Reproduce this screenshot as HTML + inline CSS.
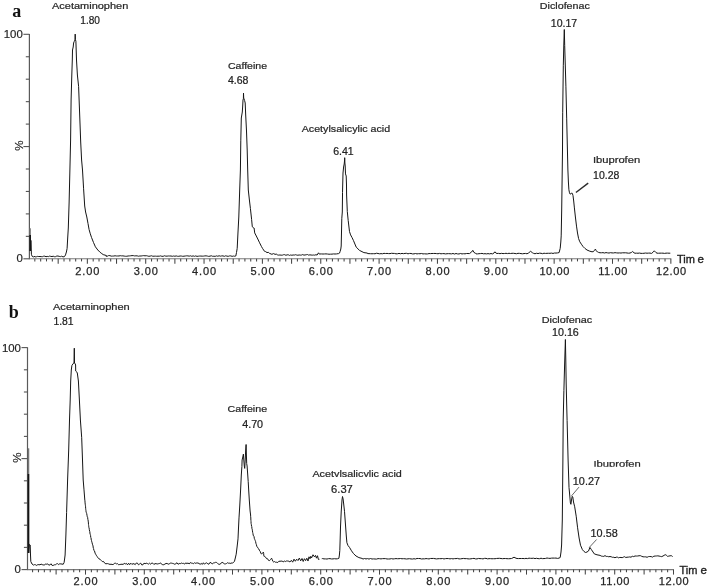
<!DOCTYPE html>
<html><head><meta charset="utf-8"><title>Chromatograms</title><style>
html,body{margin:0;padding:0;background:#fff;overflow:hidden;width:708px;height:587px;}
svg{display:block;filter:grayscale(1) blur(0.35px);}
text{font-family:"Liberation Sans",sans-serif;}
.xl{font-size:11px;fill:#262626;letter-spacing:0.9px;stroke:#262626;stroke-width:0.25px;}
.yl{font-size:11.4px;fill:#262626;stroke:#262626;stroke-width:0.2px;}
.pct{font-size:11.5px;fill:#2a2a2a;stroke:#2a2a2a;stroke-width:0.2px;}
.tm{font-size:11px;fill:#1e1e1e;stroke:#1e1e1e;stroke-width:0.35px;}
.pl{font-family:"Liberation Serif",serif;font-weight:bold;font-size:18px;fill:#111;}
.an{font-size:9.8px;fill:#262626;stroke:#262626;stroke-width:0.22px;}
.nm{fill:#222;stroke:#222;stroke-width:0.22px;}
</style></head>
<body>
<svg width="708" height="587" viewBox="0 0 708 587">
<rect width="708" height="587" fill="#fff"/>
<line x1="29.4" y1="34.00" x2="29.4" y2="259.30" stroke="#5a5a5a" stroke-width="1.2"/>
<line x1="29.4" y1="258.80" x2="671.25" y2="258.80" stroke="#7a7a7a" stroke-width="1.1"/>
<line x1="23.40" y1="258.80" x2="29.4" y2="258.80" stroke="#555" stroke-width="1.1"/>
<line x1="25.80" y1="236.35" x2="29.4" y2="236.35" stroke="#555" stroke-width="1.1"/>
<line x1="25.80" y1="213.90" x2="29.4" y2="213.90" stroke="#555" stroke-width="1.1"/>
<line x1="25.80" y1="191.45" x2="29.4" y2="191.45" stroke="#555" stroke-width="1.1"/>
<line x1="25.80" y1="169.00" x2="29.4" y2="169.00" stroke="#555" stroke-width="1.1"/>
<line x1="23.40" y1="146.55" x2="29.4" y2="146.55" stroke="#555" stroke-width="1.1"/>
<line x1="25.80" y1="124.10" x2="29.4" y2="124.10" stroke="#555" stroke-width="1.1"/>
<line x1="25.80" y1="101.65" x2="29.4" y2="101.65" stroke="#555" stroke-width="1.1"/>
<line x1="25.80" y1="79.20" x2="29.4" y2="79.20" stroke="#555" stroke-width="1.1"/>
<line x1="25.80" y1="56.75" x2="29.4" y2="56.75" stroke="#555" stroke-width="1.1"/>
<line x1="23.40" y1="34.30" x2="29.4" y2="34.30" stroke="#555" stroke-width="1.1"/>
<line x1="34.83" y1="258.80" x2="34.83" y2="261.40" stroke="#444" stroke-width="1.05"/>
<line x1="40.67" y1="258.80" x2="40.67" y2="261.40" stroke="#444" stroke-width="1.05"/>
<line x1="46.50" y1="258.80" x2="46.50" y2="261.40" stroke="#444" stroke-width="1.05"/>
<line x1="52.34" y1="258.80" x2="52.34" y2="261.40" stroke="#444" stroke-width="1.05"/>
<line x1="58.18" y1="258.80" x2="58.18" y2="263.80" stroke="#444" stroke-width="1.05"/>
<line x1="64.01" y1="258.80" x2="64.01" y2="261.40" stroke="#444" stroke-width="1.05"/>
<line x1="69.85" y1="258.80" x2="69.85" y2="261.40" stroke="#444" stroke-width="1.05"/>
<line x1="75.68" y1="258.80" x2="75.68" y2="261.40" stroke="#444" stroke-width="1.05"/>
<line x1="81.52" y1="258.80" x2="81.52" y2="261.40" stroke="#444" stroke-width="1.05"/>
<line x1="87.35" y1="258.80" x2="87.35" y2="263.80" stroke="#444" stroke-width="1.05"/>
<line x1="93.19" y1="258.80" x2="93.19" y2="261.40" stroke="#444" stroke-width="1.05"/>
<line x1="99.02" y1="258.80" x2="99.02" y2="261.40" stroke="#444" stroke-width="1.05"/>
<line x1="104.86" y1="258.80" x2="104.86" y2="261.40" stroke="#444" stroke-width="1.05"/>
<line x1="110.69" y1="258.80" x2="110.69" y2="261.40" stroke="#444" stroke-width="1.05"/>
<line x1="116.53" y1="258.80" x2="116.53" y2="263.80" stroke="#444" stroke-width="1.05"/>
<line x1="122.36" y1="258.80" x2="122.36" y2="261.40" stroke="#444" stroke-width="1.05"/>
<line x1="128.20" y1="258.80" x2="128.20" y2="261.40" stroke="#444" stroke-width="1.05"/>
<line x1="134.03" y1="258.80" x2="134.03" y2="261.40" stroke="#444" stroke-width="1.05"/>
<line x1="139.87" y1="258.80" x2="139.87" y2="261.40" stroke="#444" stroke-width="1.05"/>
<line x1="145.70" y1="258.80" x2="145.70" y2="263.80" stroke="#444" stroke-width="1.05"/>
<line x1="151.54" y1="258.80" x2="151.54" y2="261.40" stroke="#444" stroke-width="1.05"/>
<line x1="157.37" y1="258.80" x2="157.37" y2="261.40" stroke="#444" stroke-width="1.05"/>
<line x1="163.21" y1="258.80" x2="163.21" y2="261.40" stroke="#444" stroke-width="1.05"/>
<line x1="169.04" y1="258.80" x2="169.04" y2="261.40" stroke="#444" stroke-width="1.05"/>
<line x1="174.88" y1="258.80" x2="174.88" y2="263.80" stroke="#444" stroke-width="1.05"/>
<line x1="180.71" y1="258.80" x2="180.71" y2="261.40" stroke="#444" stroke-width="1.05"/>
<line x1="186.55" y1="258.80" x2="186.55" y2="261.40" stroke="#444" stroke-width="1.05"/>
<line x1="192.38" y1="258.80" x2="192.38" y2="261.40" stroke="#444" stroke-width="1.05"/>
<line x1="198.22" y1="258.80" x2="198.22" y2="261.40" stroke="#444" stroke-width="1.05"/>
<line x1="204.05" y1="258.80" x2="204.05" y2="263.80" stroke="#444" stroke-width="1.05"/>
<line x1="209.88" y1="258.80" x2="209.88" y2="261.40" stroke="#444" stroke-width="1.05"/>
<line x1="215.72" y1="258.80" x2="215.72" y2="261.40" stroke="#444" stroke-width="1.05"/>
<line x1="221.56" y1="258.80" x2="221.56" y2="261.40" stroke="#444" stroke-width="1.05"/>
<line x1="227.39" y1="258.80" x2="227.39" y2="261.40" stroke="#444" stroke-width="1.05"/>
<line x1="233.23" y1="258.80" x2="233.23" y2="263.80" stroke="#444" stroke-width="1.05"/>
<line x1="239.06" y1="258.80" x2="239.06" y2="261.40" stroke="#444" stroke-width="1.05"/>
<line x1="244.90" y1="258.80" x2="244.90" y2="261.40" stroke="#444" stroke-width="1.05"/>
<line x1="250.73" y1="258.80" x2="250.73" y2="261.40" stroke="#444" stroke-width="1.05"/>
<line x1="256.57" y1="258.80" x2="256.57" y2="261.40" stroke="#444" stroke-width="1.05"/>
<line x1="262.40" y1="258.80" x2="262.40" y2="263.80" stroke="#444" stroke-width="1.05"/>
<line x1="268.24" y1="258.80" x2="268.24" y2="261.40" stroke="#444" stroke-width="1.05"/>
<line x1="274.07" y1="258.80" x2="274.07" y2="261.40" stroke="#444" stroke-width="1.05"/>
<line x1="279.91" y1="258.80" x2="279.91" y2="261.40" stroke="#444" stroke-width="1.05"/>
<line x1="285.74" y1="258.80" x2="285.74" y2="261.40" stroke="#444" stroke-width="1.05"/>
<line x1="291.58" y1="258.80" x2="291.58" y2="263.80" stroke="#444" stroke-width="1.05"/>
<line x1="297.41" y1="258.80" x2="297.41" y2="261.40" stroke="#444" stroke-width="1.05"/>
<line x1="303.25" y1="258.80" x2="303.25" y2="261.40" stroke="#444" stroke-width="1.05"/>
<line x1="309.08" y1="258.80" x2="309.08" y2="261.40" stroke="#444" stroke-width="1.05"/>
<line x1="314.92" y1="258.80" x2="314.92" y2="261.40" stroke="#444" stroke-width="1.05"/>
<line x1="320.75" y1="258.80" x2="320.75" y2="263.80" stroke="#444" stroke-width="1.05"/>
<line x1="326.59" y1="258.80" x2="326.59" y2="261.40" stroke="#444" stroke-width="1.05"/>
<line x1="332.42" y1="258.80" x2="332.42" y2="261.40" stroke="#444" stroke-width="1.05"/>
<line x1="338.26" y1="258.80" x2="338.26" y2="261.40" stroke="#444" stroke-width="1.05"/>
<line x1="344.09" y1="258.80" x2="344.09" y2="261.40" stroke="#444" stroke-width="1.05"/>
<line x1="349.93" y1="258.80" x2="349.93" y2="263.80" stroke="#444" stroke-width="1.05"/>
<line x1="355.76" y1="258.80" x2="355.76" y2="261.40" stroke="#444" stroke-width="1.05"/>
<line x1="361.60" y1="258.80" x2="361.60" y2="261.40" stroke="#444" stroke-width="1.05"/>
<line x1="367.43" y1="258.80" x2="367.43" y2="261.40" stroke="#444" stroke-width="1.05"/>
<line x1="373.27" y1="258.80" x2="373.27" y2="261.40" stroke="#444" stroke-width="1.05"/>
<line x1="379.10" y1="258.80" x2="379.10" y2="263.80" stroke="#444" stroke-width="1.05"/>
<line x1="384.94" y1="258.80" x2="384.94" y2="261.40" stroke="#444" stroke-width="1.05"/>
<line x1="390.77" y1="258.80" x2="390.77" y2="261.40" stroke="#444" stroke-width="1.05"/>
<line x1="396.61" y1="258.80" x2="396.61" y2="261.40" stroke="#444" stroke-width="1.05"/>
<line x1="402.44" y1="258.80" x2="402.44" y2="261.40" stroke="#444" stroke-width="1.05"/>
<line x1="408.28" y1="258.80" x2="408.28" y2="263.80" stroke="#444" stroke-width="1.05"/>
<line x1="414.11" y1="258.80" x2="414.11" y2="261.40" stroke="#444" stroke-width="1.05"/>
<line x1="419.95" y1="258.80" x2="419.95" y2="261.40" stroke="#444" stroke-width="1.05"/>
<line x1="425.78" y1="258.80" x2="425.78" y2="261.40" stroke="#444" stroke-width="1.05"/>
<line x1="431.62" y1="258.80" x2="431.62" y2="261.40" stroke="#444" stroke-width="1.05"/>
<line x1="437.45" y1="258.80" x2="437.45" y2="263.80" stroke="#444" stroke-width="1.05"/>
<line x1="443.29" y1="258.80" x2="443.29" y2="261.40" stroke="#444" stroke-width="1.05"/>
<line x1="449.12" y1="258.80" x2="449.12" y2="261.40" stroke="#444" stroke-width="1.05"/>
<line x1="454.96" y1="258.80" x2="454.96" y2="261.40" stroke="#444" stroke-width="1.05"/>
<line x1="460.79" y1="258.80" x2="460.79" y2="261.40" stroke="#444" stroke-width="1.05"/>
<line x1="466.62" y1="258.80" x2="466.62" y2="263.80" stroke="#444" stroke-width="1.05"/>
<line x1="472.46" y1="258.80" x2="472.46" y2="261.40" stroke="#444" stroke-width="1.05"/>
<line x1="478.29" y1="258.80" x2="478.29" y2="261.40" stroke="#444" stroke-width="1.05"/>
<line x1="484.13" y1="258.80" x2="484.13" y2="261.40" stroke="#444" stroke-width="1.05"/>
<line x1="489.97" y1="258.80" x2="489.97" y2="261.40" stroke="#444" stroke-width="1.05"/>
<line x1="495.80" y1="258.80" x2="495.80" y2="263.80" stroke="#444" stroke-width="1.05"/>
<line x1="501.63" y1="258.80" x2="501.63" y2="261.40" stroke="#444" stroke-width="1.05"/>
<line x1="507.47" y1="258.80" x2="507.47" y2="261.40" stroke="#444" stroke-width="1.05"/>
<line x1="513.31" y1="258.80" x2="513.31" y2="261.40" stroke="#444" stroke-width="1.05"/>
<line x1="519.14" y1="258.80" x2="519.14" y2="261.40" stroke="#444" stroke-width="1.05"/>
<line x1="524.98" y1="258.80" x2="524.98" y2="263.80" stroke="#444" stroke-width="1.05"/>
<line x1="530.81" y1="258.80" x2="530.81" y2="261.40" stroke="#444" stroke-width="1.05"/>
<line x1="536.65" y1="258.80" x2="536.65" y2="261.40" stroke="#444" stroke-width="1.05"/>
<line x1="542.48" y1="258.80" x2="542.48" y2="261.40" stroke="#444" stroke-width="1.05"/>
<line x1="548.32" y1="258.80" x2="548.32" y2="261.40" stroke="#444" stroke-width="1.05"/>
<line x1="554.15" y1="258.80" x2="554.15" y2="263.80" stroke="#444" stroke-width="1.05"/>
<line x1="559.99" y1="258.80" x2="559.99" y2="261.40" stroke="#444" stroke-width="1.05"/>
<line x1="565.82" y1="258.80" x2="565.82" y2="261.40" stroke="#444" stroke-width="1.05"/>
<line x1="571.66" y1="258.80" x2="571.66" y2="261.40" stroke="#444" stroke-width="1.05"/>
<line x1="577.49" y1="258.80" x2="577.49" y2="261.40" stroke="#444" stroke-width="1.05"/>
<line x1="583.33" y1="258.80" x2="583.33" y2="263.80" stroke="#444" stroke-width="1.05"/>
<line x1="589.16" y1="258.80" x2="589.16" y2="261.40" stroke="#444" stroke-width="1.05"/>
<line x1="595.00" y1="258.80" x2="595.00" y2="261.40" stroke="#444" stroke-width="1.05"/>
<line x1="600.83" y1="258.80" x2="600.83" y2="261.40" stroke="#444" stroke-width="1.05"/>
<line x1="606.67" y1="258.80" x2="606.67" y2="261.40" stroke="#444" stroke-width="1.05"/>
<line x1="612.50" y1="258.80" x2="612.50" y2="263.80" stroke="#444" stroke-width="1.05"/>
<line x1="618.34" y1="258.80" x2="618.34" y2="261.40" stroke="#444" stroke-width="1.05"/>
<line x1="624.17" y1="258.80" x2="624.17" y2="261.40" stroke="#444" stroke-width="1.05"/>
<line x1="630.01" y1="258.80" x2="630.01" y2="261.40" stroke="#444" stroke-width="1.05"/>
<line x1="635.84" y1="258.80" x2="635.84" y2="261.40" stroke="#444" stroke-width="1.05"/>
<line x1="641.67" y1="258.80" x2="641.67" y2="263.80" stroke="#444" stroke-width="1.05"/>
<line x1="647.51" y1="258.80" x2="647.51" y2="261.40" stroke="#444" stroke-width="1.05"/>
<line x1="653.35" y1="258.80" x2="653.35" y2="261.40" stroke="#444" stroke-width="1.05"/>
<line x1="659.18" y1="258.80" x2="659.18" y2="261.40" stroke="#444" stroke-width="1.05"/>
<line x1="665.02" y1="258.80" x2="665.02" y2="261.40" stroke="#444" stroke-width="1.05"/>
<line x1="670.85" y1="258.80" x2="670.85" y2="263.80" stroke="#444" stroke-width="1.05"/>
<text x="87.85" y="274.6" class="xl" text-anchor="middle">2.00</text>
<text x="146.20" y="274.6" class="xl" text-anchor="middle">3.00</text>
<text x="204.55" y="274.6" class="xl" text-anchor="middle">4.00</text>
<text x="262.90" y="274.6" class="xl" text-anchor="middle">5.00</text>
<text x="321.25" y="274.6" class="xl" text-anchor="middle">6.00</text>
<text x="379.60" y="274.6" class="xl" text-anchor="middle">7.00</text>
<text x="437.95" y="274.6" class="xl" text-anchor="middle">8.00</text>
<text x="496.30" y="274.6" class="xl" text-anchor="middle">9.00</text>
<text x="554.65" y="274.6" class="xl" text-anchor="middle" style="letter-spacing:0.6px">10.00</text>
<text x="613.00" y="274.6" class="xl" text-anchor="middle" style="letter-spacing:0.6px">11.00</text>
<text x="671.35" y="274.6" class="xl" text-anchor="middle" style="letter-spacing:0.6px">12.00</text>
<polyline points="30.30,251.00 30.90,240.40 31.20,246.00 31.40,254.30 32.20,256.40 33.30,257.00 34.00,256.34 35.20,256.83 36.40,256.76 37.60,256.39 38.80,256.55 40.00,256.50 41.20,256.63 42.40,256.71 43.60,256.21 44.80,256.16 46.00,256.71 47.20,256.41 48.40,256.63 49.60,256.09 50.80,256.38 52.00,256.57 53.20,256.21 54.40,256.70 55.60,256.65 56.80,256.03 58.00,256.02 59.20,256.36 60.40,256.63 61.60,256.23 63.00,256.90 64.50,256.60 65.50,254.90 66.40,252.00 67.10,248.50 67.70,238.00 68.30,228.00 69.10,203.00 69.90,170.00 70.60,140.00 71.10,100.00 71.80,75.00 72.30,60.00 72.50,50.00 73.20,47.00 73.60,43.00 74.30,41.30 75.00,40.00 75.20,34.10 75.40,39.50 75.90,41.20 76.50,60.00 77.40,75.00 78.60,86.40 79.80,118.00 80.70,142.00 81.60,160.00 82.50,170.00 83.60,188.80 84.70,206.00 85.60,212.00 86.80,217.00 88.00,223.50 89.10,229.60 90.30,233.80 91.50,237.40 93.50,242.50 95.40,246.80 97.80,250.00 100.10,252.30 101.80,253.60 103.20,254.60 106.30,255.50 106.00,256.22 107.30,256.22 108.60,255.59 109.90,255.62 111.20,256.14 112.50,256.08 113.80,256.03 115.10,255.78 116.40,255.99 117.70,255.99 119.00,255.98 120.30,255.68 121.60,255.88 122.90,255.85 124.20,256.08 125.50,256.28 126.80,256.25 128.10,255.97 129.40,255.90 130.70,255.78 132.00,255.62 133.30,255.61 134.60,255.92 135.90,255.82 137.20,255.86 138.50,256.22 139.80,255.97 141.10,256.00 142.40,255.77 143.70,255.63 145.00,255.84 146.30,255.71 147.60,255.97 148.90,256.32 150.20,256.09 151.50,255.75 152.80,256.25 154.10,256.18 155.40,256.14 156.70,256.26 158.00,256.16 159.30,256.19 160.60,255.88 161.90,256.32 163.20,256.31 164.50,255.75 165.80,256.17 167.10,256.15 168.40,255.97 169.70,256.02 171.00,255.99 172.30,256.30 173.60,256.01 174.90,256.24 176.20,255.91 177.50,256.28 178.80,256.29 180.10,255.99 181.40,256.06 182.70,256.31 184.00,256.18 185.30,256.01 186.60,255.83 187.90,255.90 189.20,256.17 190.50,255.80 191.80,256.32 193.10,255.87 194.40,256.33 195.70,255.91 197.00,256.36 198.30,256.19 199.60,256.05 200.90,256.06 202.20,256.16 203.50,256.11 204.80,255.92 206.10,255.85 207.40,256.07 208.70,256.36 210.00,256.15 211.30,255.77 212.60,256.29 213.90,256.23 215.20,256.35 216.50,255.86 217.80,256.24 219.10,255.77 220.40,256.18 221.70,255.92 223.00,255.89 224.30,256.35 225.60,255.81 226.90,256.10 228.20,256.34 229.50,255.91 230.80,255.89 232.10,256.36 233.40,256.04 234.70,256.25 235.80,256.00 236.50,252.50 237.20,248.40 238.00,232.00 238.80,217.00 239.70,190.00 240.40,170.00 240.80,140.20 241.30,118.00 242.30,112.00 242.70,106.00 243.00,100.00 243.40,98.50 243.50,93.10 243.70,98.00 244.60,100.50 245.20,103.00 245.70,115.00 246.50,131.00 247.20,150.00 247.70,170.00 248.30,190.00 249.40,200.00 250.40,208.40 251.60,219.40 252.30,226.80 253.20,227.60 254.10,228.00 254.70,232.90 256.30,236.00 257.80,239.00 259.60,242.80 261.40,246.40 262.60,248.50 264.50,251.30 265.60,251.60 267.00,252.60 268.30,252.30 269.40,253.30 271.90,254.30 273.50,253.60 275.00,254.30 276.80,254.20 277.50,254.89 278.70,255.13 279.90,254.98 281.10,255.16 282.30,255.16 283.50,254.71 284.70,254.66 285.90,255.31 287.10,254.84 288.30,254.81 289.50,255.41 290.70,254.98 291.90,255.26 293.10,254.96 294.30,255.09 295.50,254.69 296.70,255.06 297.90,255.24 299.10,254.96 300.30,255.12 301.50,255.06 302.70,254.56 303.90,255.11 305.10,254.97 306.30,254.73 307.50,254.50 308.70,255.16 309.90,254.84 311.10,255.02 312.30,255.14 313.50,255.00 314.70,255.16 315.90,254.73 317.10,255.04 318.50,252.80 319.30,254.10 320.00,253.99 321.50,253.93 323.00,254.04 324.50,253.94 326.00,253.89 327.50,254.02 329.00,254.22 330.50,254.16 332.00,254.14 333.50,253.91 335.00,254.03 336.50,253.92 338.60,253.60 339.50,253.10 340.10,251.50 340.80,249.00 341.20,246.00 341.50,232.00 341.80,218.30 342.30,212.00 342.50,195.00 342.50,192.60 343.00,173.00 343.60,167.00 344.20,164.00 344.60,160.00 344.70,157.70 344.90,163.00 345.20,166.00 345.50,173.90 346.20,176.00 346.50,185.00 346.60,195.00 347.30,211.60 348.20,220.50 349.50,231.60 350.60,234.90 352.00,237.50 353.40,240.40 356.20,247.10 359.50,250.40 363.90,252.60 367.50,253.10 367.50,253.57 369.00,253.65 370.50,253.69 372.00,253.78 373.50,253.66 375.00,253.78 376.50,253.24 378.00,253.51 379.50,253.80 381.00,253.63 382.50,253.78 384.00,253.32 385.50,253.53 387.00,253.41 388.50,253.59 390.00,253.61 391.50,253.28 393.00,253.40 394.50,253.45 396.00,253.83 397.50,253.75 399.00,253.39 400.50,253.77 402.00,253.38 403.50,253.68 405.00,253.39 406.50,253.32 408.00,253.84 409.50,253.45 411.00,253.46 412.50,253.92 414.00,253.86 415.50,253.51 417.00,253.92 418.50,253.67 420.00,253.76 421.50,253.48 423.00,253.93 424.50,253.78 426.00,253.95 427.50,253.91 429.00,253.56 430.50,253.60 432.00,253.49 433.50,253.48 435.00,253.44 436.50,253.58 438.00,253.77 439.50,253.41 441.00,253.82 442.50,253.62 444.00,253.61 445.50,253.92 447.00,253.72 448.50,253.63 450.00,253.73 451.50,253.87 453.00,253.48 454.50,254.04 456.00,253.47 457.50,253.91 459.00,253.97 460.50,253.48 462.00,253.95 463.50,253.70 465.00,253.83 466.50,253.50 468.00,253.52 469.50,253.61 470.00,253.10 471.60,252.00 472.80,250.30 474.00,252.50 475.50,253.20 476.00,253.88 477.50,253.89 479.00,253.69 480.50,253.56 482.00,253.40 483.50,253.80 485.00,253.68 486.50,253.86 488.00,253.62 489.50,253.86 491.00,253.56 492.50,253.88 494.00,253.00 494.90,251.80 495.80,253.00 497.00,253.49 498.50,253.39 500.00,253.68 501.50,253.33 503.00,253.60 504.50,253.50 506.00,253.31 507.50,253.57 509.00,253.28 510.50,253.52 512.00,253.29 513.50,253.30 515.00,253.50 516.50,253.73 518.00,253.31 519.50,253.36 521.00,253.60 522.50,253.79 524.00,253.56 525.50,253.45 527.00,253.79 528.50,253.00 530.60,251.30 532.50,252.80 533.50,253.34 535.00,253.76 536.50,253.24 538.00,253.57 539.50,253.18 541.00,253.26 542.50,253.69 544.00,253.20 545.50,253.44 547.00,253.31 548.50,253.29 550.00,253.30 551.50,253.10 553.00,253.46 554.50,253.00 556.00,253.07 557.50,252.92 559.10,252.60 560.20,248.40 560.80,242.00 561.20,235.90 561.70,210.00 562.10,180.00 562.50,150.00 562.70,112.80 563.30,65.80 563.80,45.00 564.30,29.50 564.70,45.40 565.30,66.00 565.90,86.20 566.70,118.90 567.30,145.00 567.90,170.00 568.40,182.00 568.90,189.80 569.50,192.80 570.20,194.20 571.20,193.30 572.30,193.30 573.00,195.60 573.70,201.00 574.40,207.90 575.40,217.00 576.50,226.10 577.50,233.00 578.60,238.60 579.80,241.80 581.40,244.20 583.00,246.50 584.90,248.40 587.00,250.00 589.80,251.20 592.00,251.80 593.50,251.60 594.50,250.20 595.40,249.10 596.30,250.80 597.50,252.00 598.50,252.40 600.00,252.78 601.50,252.75 603.00,252.64 604.50,253.01 606.00,252.59 607.50,252.85 609.00,253.06 610.50,252.66 612.00,252.91 613.50,252.95 615.00,252.67 616.50,252.85 618.00,253.02 619.50,252.90 621.00,253.05 622.50,252.78 624.00,252.83 625.50,252.77 627.00,252.98 628.50,253.20 630.00,253.04 631.50,252.40 632.60,251.50 634.00,252.80 635.00,253.24 636.50,253.16 638.00,253.24 639.50,253.05 641.00,253.36 642.50,253.36 644.00,253.28 645.50,253.03 647.00,253.21 648.50,253.11 650.00,253.07 651.50,253.43 653.30,252.00 654.30,250.80 656.00,252.60 657.00,253.17 658.50,253.24 660.00,253.15 661.50,253.17 663.00,253.15 664.50,253.41 666.00,253.15 667.50,253.12 669.00,253.19 670.30,253.20" fill="none" stroke="#151515" stroke-width="1" stroke-linejoin="round"/>
<line x1="27.5" y1="347.30" x2="27.5" y2="570.10" stroke="#5a5a5a" stroke-width="1.2"/>
<line x1="27.5" y1="569.60" x2="673.90" y2="569.60" stroke="#7a7a7a" stroke-width="1.1"/>
<line x1="21.50" y1="569.60" x2="27.5" y2="569.60" stroke="#555" stroke-width="1.1"/>
<line x1="23.90" y1="547.40" x2="27.5" y2="547.40" stroke="#555" stroke-width="1.1"/>
<line x1="23.90" y1="525.20" x2="27.5" y2="525.20" stroke="#555" stroke-width="1.1"/>
<line x1="23.90" y1="503.00" x2="27.5" y2="503.00" stroke="#555" stroke-width="1.1"/>
<line x1="23.90" y1="480.80" x2="27.5" y2="480.80" stroke="#555" stroke-width="1.1"/>
<line x1="21.50" y1="458.60" x2="27.5" y2="458.60" stroke="#555" stroke-width="1.1"/>
<line x1="23.90" y1="436.40" x2="27.5" y2="436.40" stroke="#555" stroke-width="1.1"/>
<line x1="23.90" y1="414.20" x2="27.5" y2="414.20" stroke="#555" stroke-width="1.1"/>
<line x1="23.90" y1="392.00" x2="27.5" y2="392.00" stroke="#555" stroke-width="1.1"/>
<line x1="23.90" y1="369.80" x2="27.5" y2="369.80" stroke="#555" stroke-width="1.1"/>
<line x1="21.50" y1="347.60" x2="27.5" y2="347.60" stroke="#555" stroke-width="1.1"/>
<line x1="32.58" y1="569.60" x2="32.58" y2="572.20" stroke="#444" stroke-width="1.05"/>
<line x1="38.46" y1="569.60" x2="38.46" y2="572.20" stroke="#444" stroke-width="1.05"/>
<line x1="44.34" y1="569.60" x2="44.34" y2="572.20" stroke="#444" stroke-width="1.05"/>
<line x1="50.22" y1="569.60" x2="50.22" y2="572.20" stroke="#444" stroke-width="1.05"/>
<line x1="56.10" y1="569.60" x2="56.10" y2="574.60" stroke="#444" stroke-width="1.05"/>
<line x1="61.98" y1="569.60" x2="61.98" y2="572.20" stroke="#444" stroke-width="1.05"/>
<line x1="67.86" y1="569.60" x2="67.86" y2="572.20" stroke="#444" stroke-width="1.05"/>
<line x1="73.74" y1="569.60" x2="73.74" y2="572.20" stroke="#444" stroke-width="1.05"/>
<line x1="79.62" y1="569.60" x2="79.62" y2="572.20" stroke="#444" stroke-width="1.05"/>
<line x1="85.50" y1="569.60" x2="85.50" y2="574.60" stroke="#444" stroke-width="1.05"/>
<line x1="91.38" y1="569.60" x2="91.38" y2="572.20" stroke="#444" stroke-width="1.05"/>
<line x1="97.26" y1="569.60" x2="97.26" y2="572.20" stroke="#444" stroke-width="1.05"/>
<line x1="103.14" y1="569.60" x2="103.14" y2="572.20" stroke="#444" stroke-width="1.05"/>
<line x1="109.02" y1="569.60" x2="109.02" y2="572.20" stroke="#444" stroke-width="1.05"/>
<line x1="114.90" y1="569.60" x2="114.90" y2="574.60" stroke="#444" stroke-width="1.05"/>
<line x1="120.78" y1="569.60" x2="120.78" y2="572.20" stroke="#444" stroke-width="1.05"/>
<line x1="126.66" y1="569.60" x2="126.66" y2="572.20" stroke="#444" stroke-width="1.05"/>
<line x1="132.54" y1="569.60" x2="132.54" y2="572.20" stroke="#444" stroke-width="1.05"/>
<line x1="138.42" y1="569.60" x2="138.42" y2="572.20" stroke="#444" stroke-width="1.05"/>
<line x1="144.30" y1="569.60" x2="144.30" y2="574.60" stroke="#444" stroke-width="1.05"/>
<line x1="150.18" y1="569.60" x2="150.18" y2="572.20" stroke="#444" stroke-width="1.05"/>
<line x1="156.06" y1="569.60" x2="156.06" y2="572.20" stroke="#444" stroke-width="1.05"/>
<line x1="161.94" y1="569.60" x2="161.94" y2="572.20" stroke="#444" stroke-width="1.05"/>
<line x1="167.82" y1="569.60" x2="167.82" y2="572.20" stroke="#444" stroke-width="1.05"/>
<line x1="173.70" y1="569.60" x2="173.70" y2="574.60" stroke="#444" stroke-width="1.05"/>
<line x1="179.58" y1="569.60" x2="179.58" y2="572.20" stroke="#444" stroke-width="1.05"/>
<line x1="185.46" y1="569.60" x2="185.46" y2="572.20" stroke="#444" stroke-width="1.05"/>
<line x1="191.34" y1="569.60" x2="191.34" y2="572.20" stroke="#444" stroke-width="1.05"/>
<line x1="197.22" y1="569.60" x2="197.22" y2="572.20" stroke="#444" stroke-width="1.05"/>
<line x1="203.10" y1="569.60" x2="203.10" y2="574.60" stroke="#444" stroke-width="1.05"/>
<line x1="208.98" y1="569.60" x2="208.98" y2="572.20" stroke="#444" stroke-width="1.05"/>
<line x1="214.86" y1="569.60" x2="214.86" y2="572.20" stroke="#444" stroke-width="1.05"/>
<line x1="220.74" y1="569.60" x2="220.74" y2="572.20" stroke="#444" stroke-width="1.05"/>
<line x1="226.62" y1="569.60" x2="226.62" y2="572.20" stroke="#444" stroke-width="1.05"/>
<line x1="232.50" y1="569.60" x2="232.50" y2="574.60" stroke="#444" stroke-width="1.05"/>
<line x1="238.38" y1="569.60" x2="238.38" y2="572.20" stroke="#444" stroke-width="1.05"/>
<line x1="244.26" y1="569.60" x2="244.26" y2="572.20" stroke="#444" stroke-width="1.05"/>
<line x1="250.14" y1="569.60" x2="250.14" y2="572.20" stroke="#444" stroke-width="1.05"/>
<line x1="256.02" y1="569.60" x2="256.02" y2="572.20" stroke="#444" stroke-width="1.05"/>
<line x1="261.90" y1="569.60" x2="261.90" y2="574.60" stroke="#444" stroke-width="1.05"/>
<line x1="267.78" y1="569.60" x2="267.78" y2="572.20" stroke="#444" stroke-width="1.05"/>
<line x1="273.66" y1="569.60" x2="273.66" y2="572.20" stroke="#444" stroke-width="1.05"/>
<line x1="279.54" y1="569.60" x2="279.54" y2="572.20" stroke="#444" stroke-width="1.05"/>
<line x1="285.42" y1="569.60" x2="285.42" y2="572.20" stroke="#444" stroke-width="1.05"/>
<line x1="291.30" y1="569.60" x2="291.30" y2="574.60" stroke="#444" stroke-width="1.05"/>
<line x1="297.18" y1="569.60" x2="297.18" y2="572.20" stroke="#444" stroke-width="1.05"/>
<line x1="303.06" y1="569.60" x2="303.06" y2="572.20" stroke="#444" stroke-width="1.05"/>
<line x1="308.94" y1="569.60" x2="308.94" y2="572.20" stroke="#444" stroke-width="1.05"/>
<line x1="314.82" y1="569.60" x2="314.82" y2="572.20" stroke="#444" stroke-width="1.05"/>
<line x1="320.70" y1="569.60" x2="320.70" y2="574.60" stroke="#444" stroke-width="1.05"/>
<line x1="326.58" y1="569.60" x2="326.58" y2="572.20" stroke="#444" stroke-width="1.05"/>
<line x1="332.46" y1="569.60" x2="332.46" y2="572.20" stroke="#444" stroke-width="1.05"/>
<line x1="338.34" y1="569.60" x2="338.34" y2="572.20" stroke="#444" stroke-width="1.05"/>
<line x1="344.22" y1="569.60" x2="344.22" y2="572.20" stroke="#444" stroke-width="1.05"/>
<line x1="350.10" y1="569.60" x2="350.10" y2="574.60" stroke="#444" stroke-width="1.05"/>
<line x1="355.98" y1="569.60" x2="355.98" y2="572.20" stroke="#444" stroke-width="1.05"/>
<line x1="361.86" y1="569.60" x2="361.86" y2="572.20" stroke="#444" stroke-width="1.05"/>
<line x1="367.74" y1="569.60" x2="367.74" y2="572.20" stroke="#444" stroke-width="1.05"/>
<line x1="373.62" y1="569.60" x2="373.62" y2="572.20" stroke="#444" stroke-width="1.05"/>
<line x1="379.50" y1="569.60" x2="379.50" y2="574.60" stroke="#444" stroke-width="1.05"/>
<line x1="385.38" y1="569.60" x2="385.38" y2="572.20" stroke="#444" stroke-width="1.05"/>
<line x1="391.26" y1="569.60" x2="391.26" y2="572.20" stroke="#444" stroke-width="1.05"/>
<line x1="397.14" y1="569.60" x2="397.14" y2="572.20" stroke="#444" stroke-width="1.05"/>
<line x1="403.02" y1="569.60" x2="403.02" y2="572.20" stroke="#444" stroke-width="1.05"/>
<line x1="408.90" y1="569.60" x2="408.90" y2="574.60" stroke="#444" stroke-width="1.05"/>
<line x1="414.78" y1="569.60" x2="414.78" y2="572.20" stroke="#444" stroke-width="1.05"/>
<line x1="420.66" y1="569.60" x2="420.66" y2="572.20" stroke="#444" stroke-width="1.05"/>
<line x1="426.54" y1="569.60" x2="426.54" y2="572.20" stroke="#444" stroke-width="1.05"/>
<line x1="432.42" y1="569.60" x2="432.42" y2="572.20" stroke="#444" stroke-width="1.05"/>
<line x1="438.30" y1="569.60" x2="438.30" y2="574.60" stroke="#444" stroke-width="1.05"/>
<line x1="444.18" y1="569.60" x2="444.18" y2="572.20" stroke="#444" stroke-width="1.05"/>
<line x1="450.06" y1="569.60" x2="450.06" y2="572.20" stroke="#444" stroke-width="1.05"/>
<line x1="455.94" y1="569.60" x2="455.94" y2="572.20" stroke="#444" stroke-width="1.05"/>
<line x1="461.82" y1="569.60" x2="461.82" y2="572.20" stroke="#444" stroke-width="1.05"/>
<line x1="467.70" y1="569.60" x2="467.70" y2="574.60" stroke="#444" stroke-width="1.05"/>
<line x1="473.58" y1="569.60" x2="473.58" y2="572.20" stroke="#444" stroke-width="1.05"/>
<line x1="479.46" y1="569.60" x2="479.46" y2="572.20" stroke="#444" stroke-width="1.05"/>
<line x1="485.34" y1="569.60" x2="485.34" y2="572.20" stroke="#444" stroke-width="1.05"/>
<line x1="491.22" y1="569.60" x2="491.22" y2="572.20" stroke="#444" stroke-width="1.05"/>
<line x1="497.10" y1="569.60" x2="497.10" y2="574.60" stroke="#444" stroke-width="1.05"/>
<line x1="502.98" y1="569.60" x2="502.98" y2="572.20" stroke="#444" stroke-width="1.05"/>
<line x1="508.86" y1="569.60" x2="508.86" y2="572.20" stroke="#444" stroke-width="1.05"/>
<line x1="514.74" y1="569.60" x2="514.74" y2="572.20" stroke="#444" stroke-width="1.05"/>
<line x1="520.62" y1="569.60" x2="520.62" y2="572.20" stroke="#444" stroke-width="1.05"/>
<line x1="526.50" y1="569.60" x2="526.50" y2="574.60" stroke="#444" stroke-width="1.05"/>
<line x1="532.38" y1="569.60" x2="532.38" y2="572.20" stroke="#444" stroke-width="1.05"/>
<line x1="538.26" y1="569.60" x2="538.26" y2="572.20" stroke="#444" stroke-width="1.05"/>
<line x1="544.14" y1="569.60" x2="544.14" y2="572.20" stroke="#444" stroke-width="1.05"/>
<line x1="550.02" y1="569.60" x2="550.02" y2="572.20" stroke="#444" stroke-width="1.05"/>
<line x1="555.90" y1="569.60" x2="555.90" y2="574.60" stroke="#444" stroke-width="1.05"/>
<line x1="561.78" y1="569.60" x2="561.78" y2="572.20" stroke="#444" stroke-width="1.05"/>
<line x1="567.66" y1="569.60" x2="567.66" y2="572.20" stroke="#444" stroke-width="1.05"/>
<line x1="573.54" y1="569.60" x2="573.54" y2="572.20" stroke="#444" stroke-width="1.05"/>
<line x1="579.42" y1="569.60" x2="579.42" y2="572.20" stroke="#444" stroke-width="1.05"/>
<line x1="585.30" y1="569.60" x2="585.30" y2="574.60" stroke="#444" stroke-width="1.05"/>
<line x1="591.18" y1="569.60" x2="591.18" y2="572.20" stroke="#444" stroke-width="1.05"/>
<line x1="597.06" y1="569.60" x2="597.06" y2="572.20" stroke="#444" stroke-width="1.05"/>
<line x1="602.94" y1="569.60" x2="602.94" y2="572.20" stroke="#444" stroke-width="1.05"/>
<line x1="608.82" y1="569.60" x2="608.82" y2="572.20" stroke="#444" stroke-width="1.05"/>
<line x1="614.70" y1="569.60" x2="614.70" y2="574.60" stroke="#444" stroke-width="1.05"/>
<line x1="620.58" y1="569.60" x2="620.58" y2="572.20" stroke="#444" stroke-width="1.05"/>
<line x1="626.46" y1="569.60" x2="626.46" y2="572.20" stroke="#444" stroke-width="1.05"/>
<line x1="632.34" y1="569.60" x2="632.34" y2="572.20" stroke="#444" stroke-width="1.05"/>
<line x1="638.22" y1="569.60" x2="638.22" y2="572.20" stroke="#444" stroke-width="1.05"/>
<line x1="644.10" y1="569.60" x2="644.10" y2="574.60" stroke="#444" stroke-width="1.05"/>
<line x1="649.98" y1="569.60" x2="649.98" y2="572.20" stroke="#444" stroke-width="1.05"/>
<line x1="655.86" y1="569.60" x2="655.86" y2="572.20" stroke="#444" stroke-width="1.05"/>
<line x1="661.74" y1="569.60" x2="661.74" y2="572.20" stroke="#444" stroke-width="1.05"/>
<line x1="667.62" y1="569.60" x2="667.62" y2="572.20" stroke="#444" stroke-width="1.05"/>
<line x1="673.50" y1="569.60" x2="673.50" y2="574.60" stroke="#444" stroke-width="1.05"/>
<text x="86.00" y="585.4" class="xl" text-anchor="middle">2.00</text>
<text x="144.80" y="585.4" class="xl" text-anchor="middle">3.00</text>
<text x="203.60" y="585.4" class="xl" text-anchor="middle">4.00</text>
<text x="262.40" y="585.4" class="xl" text-anchor="middle">5.00</text>
<text x="321.20" y="585.4" class="xl" text-anchor="middle">6.00</text>
<text x="380.00" y="585.4" class="xl" text-anchor="middle">7.00</text>
<text x="438.80" y="585.4" class="xl" text-anchor="middle">8.00</text>
<text x="497.60" y="585.4" class="xl" text-anchor="middle">9.00</text>
<text x="556.40" y="585.4" class="xl" text-anchor="middle" style="letter-spacing:0.6px">10.00</text>
<text x="615.20" y="585.4" class="xl" text-anchor="middle" style="letter-spacing:0.6px">11.00</text>
<text x="674.00" y="585.4" class="xl" text-anchor="middle" style="letter-spacing:0.6px">12.00</text>
<polyline points="28.70,553.00 29.40,544.30 30.20,545.00 30.50,555.00 30.80,561.50 32.00,564.00 33.60,565.10 34.50,564.61 35.60,564.80 36.70,565.45 37.80,564.61 38.90,564.68 40.00,564.82 41.10,564.09 42.20,564.67 43.30,564.87 44.40,565.16 45.50,563.89 46.60,564.26 47.70,563.87 48.80,565.16 49.90,564.94 51.00,563.76 52.10,565.44 53.20,565.40 54.30,564.84 55.40,564.76 56.50,563.93 57.60,563.66 58.70,564.58 59.80,563.73 60.90,563.95 62.00,564.04 63.20,564.30 64.10,562.50 64.60,559.00 65.10,555.00 65.90,535.00 66.60,512.40 67.60,480.00 68.70,450.00 69.50,420.00 70.20,400.00 70.70,381.00 71.30,370.00 71.90,365.50 73.20,363.50 74.00,363.00 74.30,348.20 74.50,363.00 75.30,364.00 75.60,365.00 75.70,371.00 76.40,371.50 77.30,373.00 78.40,381.00 79.40,400.00 80.40,420.00 81.70,437.70 82.50,460.00 83.20,480.00 84.00,489.90 84.80,500.00 84.80,500.00 84.94,500.85 85.09,502.91 85.23,504.16 85.38,505.26 85.52,506.21 85.67,508.34 85.81,509.69 85.96,510.60 86.10,511.91 86.40,512.73 86.70,513.60 87.00,515.32 87.30,516.82 87.60,517.30 87.90,519.51 88.05,519.93 88.20,521.13 88.35,522.06 88.50,524.60 88.65,525.43 88.80,526.83 88.95,527.66 89.10,528.05 89.34,529.65 89.58,531.08 89.82,531.73 90.06,534.09 90.30,534.47 90.54,535.36 90.78,537.47 91.02,537.69 91.26,540.01 91.50,540.53 91.80,541.86 92.10,542.76 92.40,544.14 92.70,544.91 93.00,545.89 93.30,548.24 93.60,548.54 93.90,550.49 94.50,550.89 95.10,553.16 95.70,554.25 96.30,555.26 96.90,556.47 97.90,557.41 98.90,558.82 99.90,559.17 101.10,560.39 102.30,561.60 103.50,561.44 104.70,563.17 105.90,563.84 107.27,563.57 108.63,563.91 110.00,564.43 111.00,564.15 112.10,564.51 113.20,564.51 114.30,563.46 115.40,563.19 116.50,563.90 117.60,563.69 118.70,564.76 119.80,564.51 120.90,564.32 122.00,564.23 123.10,564.42 124.20,563.38 125.30,563.96 126.40,563.40 127.50,564.88 128.60,563.17 129.70,564.68 130.80,563.19 131.90,564.40 133.00,563.69 134.10,563.82 135.20,564.68 136.30,563.03 137.40,563.10 138.50,564.80 139.60,563.98 140.70,563.14 141.80,564.92 142.90,564.83 144.00,563.15 145.10,563.76 146.20,563.18 147.30,563.53 148.40,564.13 149.50,563.21 150.60,564.27 151.70,562.97 152.80,563.20 153.90,564.48 155.00,563.64 156.10,563.66 157.20,564.01 158.30,563.76 159.40,563.57 160.50,562.85 161.60,564.23 162.70,564.71 163.80,564.72 164.90,564.08 166.00,563.46 167.10,563.46 168.20,564.11 169.30,564.07 170.40,562.94 171.50,563.17 172.60,563.42 173.70,563.70 174.80,564.29 175.90,563.66 177.00,562.71 178.10,564.29 179.20,563.50 180.30,563.67 181.40,563.06 182.50,563.46 183.60,563.38 184.70,564.13 185.80,562.79 186.90,563.67 188.00,562.92 189.10,563.95 190.20,562.62 191.30,563.09 192.40,563.22 193.50,563.79 194.60,562.61 195.70,563.42 196.80,562.91 197.90,563.05 199.00,563.43 200.10,564.38 201.20,563.42 202.30,564.36 203.40,562.77 204.50,564.28 205.60,563.15 206.70,562.79 207.80,563.90 208.90,564.21 210.00,562.40 211.10,562.91 212.20,563.90 213.30,563.04 214.40,562.83 215.50,562.35 216.60,562.41 217.70,563.56 218.80,564.28 219.90,564.30 221.00,563.30 222.10,562.33 223.20,562.92 224.30,563.84 225.40,563.92 226.50,563.52 227.60,562.70 228.70,563.28 229.80,563.17 230.90,563.46 232.00,562.73 232.50,563.00 233.50,562.50 234.50,561.20 235.30,558.00 236.20,554.20 237.20,546.00 238.00,538.90 238.50,528.00 239.00,517.90 239.80,505.00 240.60,490.00 241.30,475.00 241.90,466.40 242.10,460.00 242.80,457.00 243.40,454.10 243.80,460.00 244.30,466.00 244.70,468.40 245.20,460.00 245.70,450.00 246.10,444.50 246.40,455.00 246.70,463.60 247.10,466.00 247.60,473.00 248.20,481.40 248.80,492.00 249.30,500.00 250.10,511.00 250.60,515.00 250.60,515.00 250.67,516.74 250.74,516.94 250.81,517.99 250.89,520.34 250.96,520.55 251.03,521.66 251.10,523.48 251.32,524.33 251.54,526.21 251.76,526.64 251.98,528.73 252.20,529.18 252.45,530.82 252.70,532.52 252.95,533.52 253.20,535.11 253.60,536.07 254.00,536.50 254.40,538.72 254.80,539.59 255.20,540.47 255.60,541.60 256.00,543.67 256.40,544.62 256.80,546.33 257.47,547.16 258.13,548.42 258.80,548.98 259.32,550.16 259.84,551.07 260.36,551.67 260.88,553.53 261.40,553.77 262.50,553.34 263.40,552.05 263.52,552.81 263.65,553.32 263.77,555.27 263.90,556.20 264.77,556.49 265.63,557.19 266.50,558.64 267.53,558.71 268.57,560.44 269.60,560.61 270.60,559.47 271.60,558.19 272.27,559.79 272.93,561.40 273.60,561.97 274.50,561.57 275.60,562.28 276.70,562.23 277.80,562.48 278.90,561.24 280.00,561.27 281.10,561.07 282.20,561.16 283.30,562.02 284.40,560.89 285.50,561.56 286.60,560.94 287.70,561.03 288.80,561.23 289.90,561.91 290.00,561.95 291.33,560.34 292.67,562.17 294.00,559.16 295.33,561.23 296.67,559.20 298.00,560.57 299.33,558.06 300.67,560.85 302.00,558.48 303.20,561.47 304.40,558.70 305.60,560.62 306.80,558.21 308.00,561.04 309.00,556.81 310.00,558.77 310.75,556.34 311.50,558.01 313.00,554.78 314.50,556.92 315.50,555.38 316.50,558.17 317.47,555.73 318.43,559.47 319.40,559.30" fill="none" stroke="#151515" stroke-width="1" stroke-linejoin="round"/>
<polyline points="321.80,558.70 322.50,558.56 324.00,558.92 325.50,558.89 327.00,559.06 328.50,558.66 330.00,558.65 331.50,558.94 333.00,558.90 334.50,558.68 336.00,558.91 337.50,558.74 338.90,558.30 339.40,555.00 339.80,550.50 340.20,538.00 340.50,527.00 341.20,512.00 342.00,500.00 342.50,496.50 343.10,499.00 343.80,505.00 344.50,511.30 345.50,525.00 346.30,536.00 346.90,542.70 348.00,545.50 349.50,547.40 351.50,550.80 353.50,553.60 356.00,556.00 358.90,557.60 362.00,558.40 363.00,559.08 364.50,558.50 366.00,558.94 367.50,558.59 369.00,559.08 370.50,558.50 372.00,559.02 373.50,558.89 375.00,559.00 376.50,559.08 378.00,558.62 379.50,558.68 381.00,558.90 382.50,558.64 384.00,558.63 385.50,558.61 387.00,558.98 388.50,558.99 390.00,558.94 391.50,558.60 393.00,559.01 394.50,558.76 396.00,558.59 397.50,558.73 399.00,558.70 400.50,558.50 402.00,558.79 403.50,558.66 405.00,558.79 406.50,559.00 408.00,558.83 409.50,558.68 411.00,558.95 412.50,559.03 414.00,558.73 415.50,559.00 417.00,558.44 418.50,558.51 420.00,558.53 421.50,558.98 423.00,558.83 424.50,558.85 426.00,558.59 427.50,558.71 429.00,558.94 430.50,558.47 432.00,558.48 433.50,558.43 435.00,558.68 436.50,558.91 438.00,558.73 439.50,558.64 441.00,558.70 442.50,558.50 444.00,558.96 445.50,558.60 447.00,558.53 448.50,558.57 450.00,558.88 451.50,558.57 453.00,558.92 454.50,558.58 456.00,558.64 457.50,558.42 459.00,558.92 460.50,558.85 462.00,558.65 463.50,558.43 465.00,558.66 466.50,558.59 468.00,558.86 469.50,558.91 471.00,558.80 472.50,558.53 474.00,558.38 475.50,558.89 477.00,558.91 478.50,558.44 480.00,558.64 481.50,558.63 483.00,558.92 484.50,558.36 486.00,558.37 487.50,558.84 489.00,558.67 490.50,558.61 492.00,558.79 493.50,558.68 495.00,558.74 496.50,558.47 498.00,558.37 499.50,558.32 501.00,558.51 502.50,558.70 504.00,558.54 505.50,558.52 507.00,558.68 508.50,558.73 510.00,558.66 511.50,558.49 512.00,558.30 514.00,557.20 516.00,558.20 517.00,558.50 518.50,558.57 520.00,558.51 521.50,558.52 523.00,558.48 524.50,558.64 526.00,558.35 527.50,558.60 529.00,558.14 530.50,558.33 532.00,558.34 533.50,558.19 535.00,558.60 536.50,558.28 538.00,558.60 539.50,558.71 541.00,558.20 542.50,558.64 544.00,558.56 545.50,558.45 547.00,557.99 548.50,558.27 550.00,558.38 551.50,558.13 553.00,558.07 554.50,558.11 556.00,558.06 557.50,558.42 559.00,558.10 560.20,557.50 561.00,552.00 561.60,545.00 562.30,520.00 562.50,500.00 562.90,460.00 563.20,420.00 563.90,390.50 564.60,365.00 565.40,339.50 565.80,360.00 566.20,384.00 566.70,405.00 567.10,420.40 567.60,440.00 568.10,460.00 568.60,475.00 569.00,487.50 569.80,496.00 570.40,503.00 570.90,504.30 571.50,500.00 572.20,496.30 572.80,497.00 573.50,502.00 574.70,506.80 576.20,516.20 577.60,527.80 579.10,538.00 580.50,545.20 582.40,549.60 584.00,551.50 585.60,552.50 587.00,552.00 588.50,551.00 589.30,549.00 589.90,547.40 591.40,549.60 594.30,553.90 597.00,554.80 600.10,555.40 600.10,555.40 601.33,556.08 602.55,556.29 603.77,556.40 605.00,555.60 606.25,556.42 607.50,556.43 608.75,556.77 610.00,556.51 611.25,556.79 612.50,557.31 613.75,557.25 615.00,557.75 616.20,557.16 617.40,557.16 618.60,557.84 619.80,557.43 621.00,557.47 622.20,557.66 623.40,557.14 624.60,556.71 625.80,557.51 627.00,557.21 628.34,557.13 629.67,556.92 631.01,557.18 632.35,556.29 633.69,556.60 635.03,555.97 636.36,556.05 637.70,555.99 639.04,555.76 640.39,555.67 641.73,556.33 643.07,556.80 644.41,556.84 645.76,556.85 647.10,557.27 648.45,556.62 649.80,556.51 651.15,556.59 652.50,557.08 653.85,556.23 655.20,556.04 656.50,555.97 657.80,555.85 659.10,556.08 660.40,556.39 661.70,556.63 663.00,556.00 664.10,555.39 665.20,554.65 666.35,555.22 667.50,556.33 668.77,556.11 670.05,555.81 671.33,555.68 672.60,556.54" fill="none" stroke="#151515" stroke-width="1" stroke-linejoin="round"/>
<line x1="28.6" y1="448.3" x2="28.6" y2="474" stroke="#777" stroke-width="1.3"/>
<line x1="28.5" y1="474" x2="28.5" y2="553" stroke="#151515" stroke-width="1.7"/>
<line x1="30.2" y1="228.2" x2="30.2" y2="235" stroke="#777" stroke-width="1.3"/>
<line x1="30.2" y1="235" x2="30.2" y2="251" stroke="#151515" stroke-width="1.6"/>
<text x="22.80" y="38.40" class="yl" text-anchor="end">100</text>
<text x="22.80" y="262.10" class="yl" text-anchor="end">0</text>
<text class="pct" transform="translate(23.20,145.55) rotate(-90)" text-anchor="middle">%</text>
<text x="20.90" y="351.70" class="yl" text-anchor="end">100</text>
<text x="20.90" y="572.90" class="yl" text-anchor="end">0</text>
<text class="pct" transform="translate(21.30,457.60) rotate(-90)" text-anchor="middle">%</text>
<text x="677" y="263" class="tm">Tim</text><text x="697.6" y="263" class="tm" style="font-size:11.6px">e</text>
<text x="679.5" y="573.8" class="tm">Tim</text><text x="700.5" y="573.8" class="tm" style="font-size:11.6px">e</text>
<text x="12.3" y="17" class="pl">a</text>
<text x="8.8" y="318.2" class="pl">b</text>
<text x="52.0" y="8.8" class="an" style="font-size:9.8px" textLength="76.3" lengthAdjust="spacingAndGlyphs">Acetaminophen</text>
<text x="80.3" y="23.9" class="nm" style="font-size:10.0px" textLength="19.7" lengthAdjust="spacingAndGlyphs">1.80</text>
<text x="227.9" y="69.0" class="an" style="font-size:9.8px" textLength="39.2" lengthAdjust="spacingAndGlyphs">Caffeine</text>
<text x="227.9" y="84.2" class="nm" style="font-size:10.0px" textLength="20.5" lengthAdjust="spacingAndGlyphs">4.68</text>
<text x="301.7" y="131.8" class="an" style="font-size:9.8px" textLength="88.5" lengthAdjust="spacingAndGlyphs">Acetylsalicylic acid</text>
<text x="333.2" y="154.6" class="nm" style="font-size:11.0px" textLength="20.5" lengthAdjust="spacingAndGlyphs">6.41</text>
<text x="539.8" y="8.8" class="an" style="font-size:9.8px" textLength="50.1" lengthAdjust="spacingAndGlyphs">Diclofenac</text>
<text x="550.8" y="26.8" class="nm" style="font-size:10.8px" textLength="26.4" lengthAdjust="spacingAndGlyphs">10.17</text>
<text x="592.9" y="163.3" class="an" style="font-size:9.8px" textLength="47.3" lengthAdjust="spacingAndGlyphs">Ibuprofen</text>
<text x="593.1" y="179.3" class="nm" style="font-size:10.0px" textLength="26.2" lengthAdjust="spacingAndGlyphs">10.28</text>
<text x="53.0" y="310.3" class="an" style="font-size:9.8px" textLength="76.7" lengthAdjust="spacingAndGlyphs">Acetaminophen</text>
<text x="53.4" y="324.9" class="nm" style="font-size:10.0px" textLength="20.2" lengthAdjust="spacingAndGlyphs">1.81</text>
<text x="227.5" y="411.5" class="an" style="font-size:9.8px" textLength="39.6" lengthAdjust="spacingAndGlyphs">Caffeine</text>
<text x="242.2" y="428.4" class="nm" style="font-size:10.0px" textLength="20.9" lengthAdjust="spacingAndGlyphs">4.70</text>
<text x="331.1" y="492.8" class="nm" style="font-size:10.8px" textLength="21.7" lengthAdjust="spacingAndGlyphs">6.37</text>
<text x="541.7" y="322.8" class="an" style="font-size:9.8px" textLength="50.6" lengthAdjust="spacingAndGlyphs">Diclofenac</text>
<text x="552.0" y="336.3" class="nm" style="font-size:10.2px" textLength="26.8" lengthAdjust="spacingAndGlyphs">10.16</text>
<text x="572.8" y="484.6" class="nm" style="font-size:11.0px" textLength="27.2" lengthAdjust="spacingAndGlyphs">10.27</text>
<text x="590.6" y="536.5" class="nm" style="font-size:11.0px" textLength="27.1" lengthAdjust="spacingAndGlyphs">10.58</text>
<clipPath id="c1"><rect x="300" y="460" width="110" height="16.9"/></clipPath>
<clipPath id="c2"><rect x="585" y="450" width="70" height="16.8"/></clipPath>
<text x="312.4" y="476.8" class="an" textLength="89.4" lengthAdjust="spacingAndGlyphs" clip-path="url(#c1)">Acetylsalicylic acid</text>
<text x="593.4" y="466.9" class="an" textLength="47.4" lengthAdjust="spacingAndGlyphs" clip-path="url(#c2)">Ibuprofen</text>
<line x1="588.2" y1="183.1" x2="575.9" y2="192.5" stroke="#2a2a2a" stroke-width="1.4"/>
<line x1="579" y1="487.1" x2="571.5" y2="495.9" stroke="#555" stroke-width="0.9"/>
<line x1="596.6" y1="539.5" x2="589.3" y2="547.4" stroke="#555" stroke-width="0.9"/>
</svg>
</body></html>
